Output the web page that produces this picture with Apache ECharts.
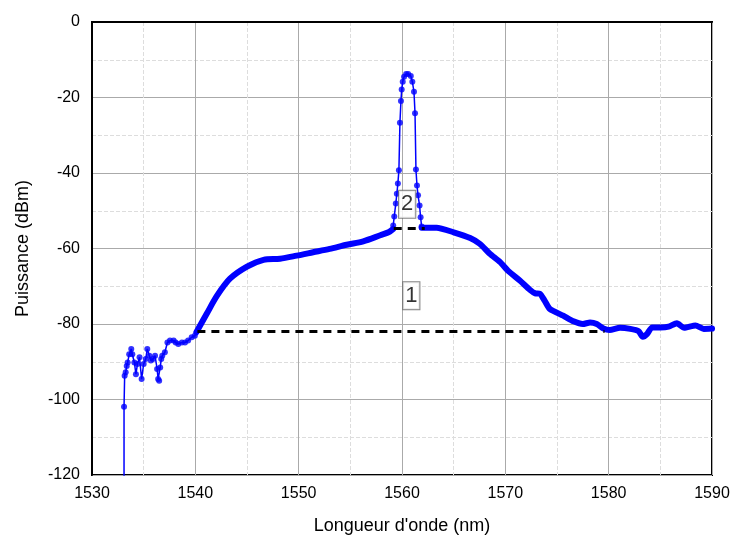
<!DOCTYPE html>
<html>
<head>
<meta charset="utf-8">
<script src="https://cdn.jsdelivr.net/npm/echarts@6/dist/echarts.min.js"></script>
<style>
  html, body { margin: 0; padding: 0; background: #fff; }
  #chart { width: 734px; height: 543px; }
</style>
</head>
<body>
<div id="chart"></div>
<script>
// spectre mesuré : partie bruitée (points espacés)
var noiseX = [1533.1, 1533.1, 1533.16, 1533.26, 1533.36, 1533.45, 1533.6, 1533.8, 1533.9, 1534.1, 1534.25, 1534.4,
  1534.6, 1534.8, 1535.0, 1535.2, 1535.35, 1535.55, 1535.7, 1535.9, 1536.1, 1536.3, 1536.4, 1536.5, 1536.6,
  1536.7, 1536.8, 1537.05, 1537.3, 1537.55, 1537.9, 1538.1, 1538.35, 1538.7, 1539.0, 1539.3, 1539.65, 1539.95];
var noiseY = [-125, -101.9, -93.7, -92.8, -91.1, -90.2, -88.0, -86.6, -88.0, -90.2, -93.3, -90.6,
  -88.8, -94.6, -90.6, -89.3, -86.6, -88.4, -89.7, -89.3, -88.4, -91.9, -94.6, -95.0, -91.5,
  -89.3, -88.4, -87.5, -84.9, -84.4, -84.4, -84.9, -85.3, -84.9, -84.9, -84.4, -83.5, -83.1];

// montée du spectre ASE (trait épais)
var riseX = [1540.1, 1541.1, 1542.1, 1543.35, 1545.0, 1546.6, 1548.2, 1549.8, 1551.4, 1553.0, 1554.65,
  1556.25, 1557.9, 1558.7, 1559.15];
var riseY = [-82.2, -77.3, -72.5, -68.0, -64.8, -63.0, -62.7, -61.9, -61.0, -60.1, -59.0,
  -58.1, -56.5, -55.7, -54.8];

// pic du signal (points)
var peakX = [1559.15, 1559.25, 1559.4, 1559.5, 1559.6, 1559.7, 1559.8, 1559.9, 1559.97, 1560.07, 1560.2,
  1560.4, 1560.6, 1560.85, 1561.0, 1561.16, 1561.26, 1561.35, 1561.45, 1561.55, 1561.7, 1561.8, 1561.9];
var peakY = [-53.9, -51.5, -48.1, -45.5, -42.8, -39.3, -26.7, -20.9, -17.9, -15.8, -14.5,
  -13.8, -13.8, -14.3, -15.8, -18.5, -24.2, -39.1, -43.3, -45.9, -48.6, -51.7, -54.2];

// descente (trait épais)
var fallX = [1561.9, 1563.35, 1565.0, 1566.6, 1567.55, 1568.5, 1569.5, 1570.3, 1571.4, 1572.4, 1572.9,
  1573.35, 1573.8, 1574.3, 1575.6, 1576.6, 1577.5, 1578.2, 1578.85, 1579.5, 1580.1, 1581.1, 1582.1,
  1582.9, 1583.3, 1583.7, 1584.2, 1585.0, 1585.8, 1586.6, 1587.3, 1588.4, 1589.2, 1590.0];
var fallY = [-54.5, -54.5, -55.7, -57.2, -58.8, -61.4, -63.6, -66.0, -68.5, -71.0, -71.9,
  -72.0, -73.8, -76.0, -77.8, -79.3, -80.0, -79.6, -80.0, -81.2, -81.6, -81.0, -81.3,
  -81.9, -83.4, -82.7, -80.9, -80.9, -80.7, -79.8, -81.0, -80.4, -81.3, -81.2];

// niveaux de référence (pointillés)
var base1X = [1540.2, 1579.6];
var base1Y = [-82.0, -82.0];
var base2X = [1559.2, 1562.2];
var base2Y = [-54.7, -54.7];

// étiquettes
var labelTexts = ['1', '2'];
var labelX = [1560.9, 1560.5];
var labelY = [-72.5, -48.3];

var xTicks = [1530, 1540, 1550, 1560, 1570, 1580, 1590];
var yTicks = [0, -20, -40, -60, -80, -100, -120];

function pairs(xs, ys) {
  return xs.map(function(x, i) { return [x, ys[i]]; });
}

var full = pairs(noiseX, noiseY).concat(pairs(riseX, riseY), pairs(peakX, peakY), pairs(fallX, fallY));
var dots = pairs(noiseX, noiseY).slice(1).concat(pairs(peakX, peakY));

var FONT = '"Liberation Sans", Arial, sans-serif';
var BLUE = '#0000ff';

function axisCommon() {
  return {
    nameLocation: 'middle',
    nameTextStyle: { fontFamily: FONT, fontSize: 18, color: '#000' },
    axisLine: { show: true, lineStyle: { color: '#000', width: 2 } },
    axisTick: { show: false },
    axisLabel: { fontFamily: FONT, fontSize: 16, color: '#000', formatter: function(v) { return String(v); } },
    splitLine: { show: true, lineStyle: { color: '#aaa', width: 1 } },
    minorTick: { show: false, splitNumber: 2 },
    minorSplitLine: { show: true, lineStyle: { color: '#ddd', type: 'dashed', width: 1 } }
  };
}

var xAxis = axisCommon();
xAxis.type = 'value';
xAxis.min = xTicks[0];
xAxis.max = xTicks[xTicks.length - 1];
xAxis.interval = 10;
xAxis.name = "Longueur d'onde (nm)";
xAxis.nameGap = 42;
xAxis.axisLabel.margin = 11;

var yAxis = axisCommon();
yAxis.type = 'value';
yAxis.min = yTicks[yTicks.length - 1];
yAxis.max = yTicks[0];
yAxis.interval = 20;
yAxis.name = 'Puissance (dBm)';
yAxis.nameGap = 60;
yAxis.axisLabel.margin = 12;

var thickStyle = { color: BLUE, width: 6, cap: 'round', join: 'round' };

var option = {
  animation: false,
  backgroundColor: '#fff',
  grid: {
    left: 92, top: 22, right: 22, bottom: 68,
    show: true, borderColor: '#000', borderWidth: 2
  },
  xAxis: xAxis,
  yAxis: yAxis,
  series: [
    {
      name: 'spectre', type: 'line', data: full,
      showSymbol: false, clip: true,
      lineStyle: { color: BLUE, width: 1.5 }
    },
    {
      name: 'montee', type: 'line', data: pairs(riseX, riseY),
      showSymbol: false, smooth: 0.3,
      lineStyle: thickStyle
    },
    {
      name: 'descente', type: 'line', data: pairs(fallX, fallY),
      showSymbol: false, smooth: 0.2,
      lineStyle: thickStyle
    },
    {
      name: 'points', type: 'scatter', data: dots,
      symbol: 'circle', symbolSize: 6,
      itemStyle: { color: BLUE }
    },
    {
      name: 'ref1', type: 'line', data: pairs(base1X, base1Y),
      showSymbol: false,
      lineStyle: { color: '#000', width: 3, type: [8, 6] }
    },
    {
      name: 'ref2', type: 'line', data: pairs(base2X, base2Y),
      showSymbol: false,
      lineStyle: { color: '#000', width: 3, type: [8, 6] }
    },
    {
      name: 'labels', type: 'scatter',
      data: labelTexts.map(function(t, i) { return { value: [labelX[i], labelY[i]], name: t }; }),
      symbolSize: 0, z: 10,
      label: {
        show: true, position: 'inside',
        formatter: function(p) { return p.name; },
        fontFamily: FONT, fontSize: 22, color: '#000',
        backgroundColor: '#fff', borderColor: '#666', borderWidth: 1,
        padding: [3, 2, 2, 2]
      }
    }
  ]
};

var chart = echarts.init(document.getElementById('chart'));
chart.setOption(option);
</script>
</body>
</html>
